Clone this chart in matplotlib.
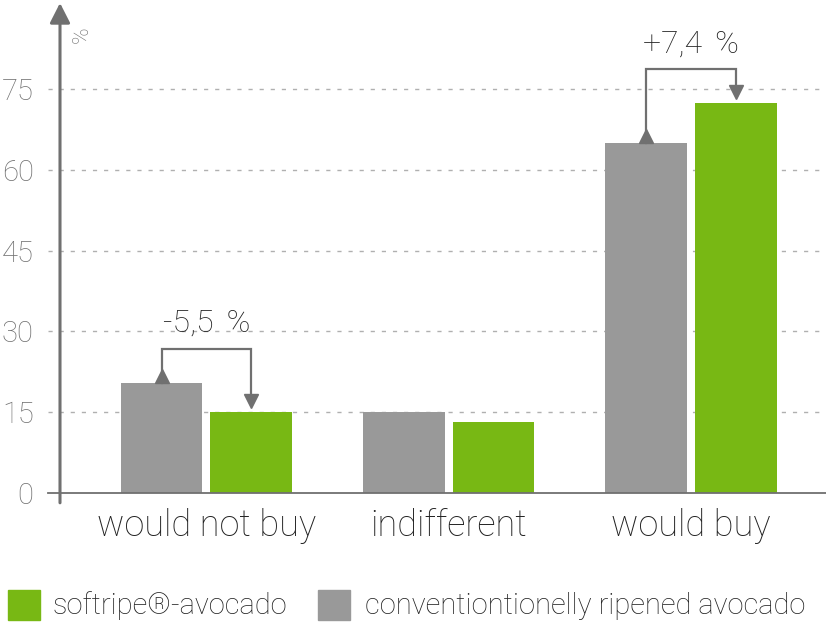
#!/usr/bin/env python3
"""
Purchase intention: softripe avocado vs conventionally ripened avocado
"""

import matplotlib
matplotlib.use("Agg")
import matplotlib.pyplot as plt
from matplotlib.patches import Rectangle
from matplotlib.transforms import offset_copy
import numpy as np

# Data
categories = ["would not buy", "indifferent", "would buy"]
conventional = [20.5, 15.0, 65.0]
softripe = [15.0, 13.2, 72.4]
yticks = [0, 15, 30, 45, 60, 75]
diff_labels = {0: "-5,5 %", 2: "+7,4 %"}
legend_labels = ["softripe®-avocado", "conventiontionelly ripened avocado"]

# Style
GREEN = "#78b814"
GRAY = "#999999"
AXIS = "#707070"
TEXT = "#222222"
FONT = "Roboto"

plt.rcParams.update({
    "font.family": [FONT, "DejaVu Sans"],
    "font.weight": "normal",
    "lines.scale_dashes": False,
})

W, H = 826, 622
fig = plt.figure(figsize=(W / 100, H / 100), dpi=100)
# axes placed in pixel terms: y-axis at x=60, baseline at y=493
ax = fig.add_axes([60 / W, (H - 493) / H, (W - 60) / W, 490 / H])

x = np.arange(len(categories))
bar_w = 0.338
off = 0.185
ax.bar(x - off, conventional, width=bar_w, color=GRAY, zorder=3)
ax.bar(x + off, softripe, width=bar_w, color=GREEN, zorder=3)

ax.set_xlim(-0.604, 2.557)
ax.set_ylim(0, 91)

for s in ax.spines.values():
    s.set_visible(False)

# dashed grid lines reaching a bit left of the axis
ytr = ax.get_yaxis_transform()
for t in yticks[1:]:
    ax.plot([-0.016, 1], [t, t], transform=ytr, color="#b0b0b0", lw=1.0,
            linestyle=(0, (3, 5)), clip_on=False, zorder=1)
# baseline
ax.plot([-0.016, 1], [0, 0], transform=ytr, color=AXIS, lw=1.3,
        clip_on=False, zorder=4)
# y axis with arrow
ax.annotate("", xy=(0, 1.0), xytext=(0, -0.02), xycoords="axes fraction",
            textcoords="axes fraction",
            arrowprops=dict(arrowstyle="-|>,head_length=0.55,head_width=0.28",
                            color=AXIS, lw=2.2, mutation_scale=22,
                            shrinkA=0, shrinkB=0), annotation_clip=False)
ax.text(0.029, 0.935, "%", transform=ax.transAxes, rotation=90,
        ha="center", va="center", fontsize=16, color=AXIS,
        fontweight="light")

ax.set_yticks(yticks)
ax.set_yticklabels([str(t) for t in yticks], fontsize=21, color=AXIS,
                   fontweight="light")
ax.tick_params(axis="y", length=0, pad=19)
ax.set_xticks(x)
ax.set_xticklabels(categories, fontsize=26, color=TEXT, fontweight="light")
ax.tick_params(axis="x", length=0, pad=11)

# difference brackets
up_tr = offset_copy(ax.transData, fig=fig, y=4.7, units="points")
for i, label in diff_labels.items():
    xg, xs = x[i] - off, x[i] + off
    g, s = conventional[i], softripe[i]
    level = max(g, s) + 6.3
    tip = s + 1.1
    ax.plot([xg, xg, xs, xs], [g, level, level, tip + 1.5],
            color=AXIS, lw=1.6, zorder=5, solid_joinstyle="miter")
    ax.plot([xg], [g], marker="^", markersize=9.5, color=AXIS,
            transform=up_tr, zorder=6, clip_on=False)
    dn_tr = offset_copy(ax.transData, fig=fig, y=4.0, units="points")
    ax.plot([xs], [tip], marker="v", markersize=9.5, color=AXIS,
            transform=dn_tr, zorder=6)
    ax.annotate(label.replace(" %", "\u2009\u2009%"), xy=(x[i], level),
                xytext=(0, 12), textcoords="offset points", ha="center",
                va="baseline", fontsize=23, color=TEXT, fontweight="light")

# legend drawn by hand
for (px, tx), col, lab in zip([(8, 53), (318, 365)], [GREEN, GRAY], legend_labels):
    fig.patches.append(Rectangle((px / W, (H - 620) / H), 32 / W, 30 / H,
                                 transform=fig.transFigure, color=col))
    fig.text(tx / W, (H - 606) / H, lab, ha="left", va="center",
             fontsize=21, color=TEXT, fontweight="light")

fig.savefig("out.png", dpi=100, facecolor="white")
